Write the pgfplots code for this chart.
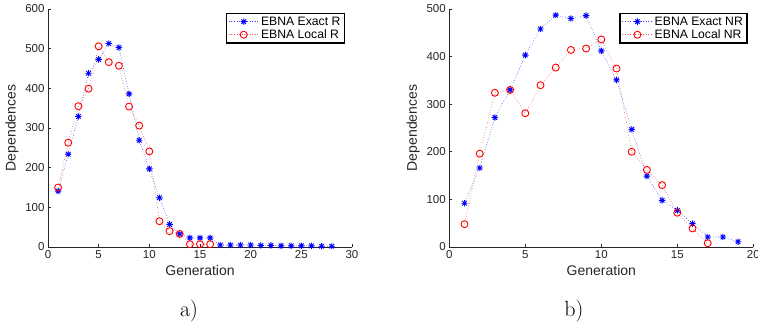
\documentclass[border=0pt]{standalone}
\usepackage{fontspec}
\usepackage{pgfplots}
\pgfplotsset{compat=1.18}
\newfontfamily\arial{Liberation Sans}
\pgfdeclareplotmark{mstar}{%
 \pgfpathmoveto{\pgfqpoint{-\pgfplotmarksize}{0pt}}\pgfpathlineto{\pgfqpoint{\pgfplotmarksize}{0pt}}%
 \pgfpathmoveto{\pgfqpoint{0pt}{-\pgfplotmarksize}}\pgfpathlineto{\pgfqpoint{0pt}{\pgfplotmarksize}}%
 \pgfpathmoveto{\pgfqpoint{-.7071\pgfplotmarksize}{-.7071\pgfplotmarksize}}\pgfpathlineto{\pgfqpoint{.7071\pgfplotmarksize}{.7071\pgfplotmarksize}}%
 \pgfpathmoveto{\pgfqpoint{-.7071\pgfplotmarksize}{.7071\pgfplotmarksize}}\pgfpathlineto{\pgfqpoint{.7071\pgfplotmarksize}{-.7071\pgfplotmarksize}}%
 \pgfusepathqstroke}
\pgfplotsset{
 myax/.style={
  scale only axis, width=304pt, height=238pt,
  axis x line*=bottom, axis y line*=left,
  axis line style={-, line width=0.9pt, black!85},
  tick align=inside, major tick length=3pt,
  tick style={line width=0.8pt, black!85},
  /pgf/number format/assume math mode=true,
  tick label style={font=\arial\fontsize{11.5}{13}\selectfont, text=black!85},
  label style={font=\arial\fontsize{14}{16}\selectfont, text=black!85},
  xlabel={Generation}, ylabel={Dependences},
  clip=false,
  legend cell align=left,
  legend style={font=\arial\fontsize{12.2}{14}\selectfont, draw=black, line width=1.3pt,
    anchor=north east, inner xsep=2pt, inner ysep=1pt, row sep=-1pt},
  legend image code/.code={%
    \draw[#1, mark repeat=2, mark phase=2] plot coordinates {(0pt,0pt) (15pt,0pt) (30pt,0pt)};},
 },
 ex/.style={blue!75, dotted, line width=0.6pt, mark=mstar, mark size=3.2pt,
   mark options={solid, blue, line width=0.9pt}},
 lo/.style={red!70, dotted, line width=0.6pt, mark=o, mark size=3.5pt,
   mark options={solid, red, line width=0.9pt}},
}
\begin{document}
\begin{tikzpicture}
\begin{axis}[myax, at={(48pt,81pt)}, anchor=south west,
  xmin=0, xmax=30, ymin=0, ymax=600,
  xtick={0,5,...,30}, ytick={0,100,...,600},
  legend style={at={(rel axis cs:0.977,0.983)}}]
\addplot[ex] coordinates {(1,141)(2,234)(3,329)(4,438)(5,473)(6,513)(7,503)(8,386)(9,269)(10,197)(11,124)(12,57)(13,33)(14,23)(15,23)(16,23)(17,5)(18,5)(19,5)(20,5)(21,4)(22,4)(23,3)(24,3)(25,3)(26,3)(27,2)(28,2)};
\addlegendentry{EBNA Exact R}
\addplot[lo] coordinates {(1,150)(2,263)(3,355)(4,399)(5,506)(6,466)(7,457)(8,354)(9,306)(10,241)(11,65)(12,40)(13,33)(14,7)(15,7)(16,7)};
\addlegendentry{EBNA Local R}
\end{axis}
\begin{axis}[myax, at={(449.3pt,81pt)}, anchor=south west,
  xmin=0, xmax=20, ymin=0, ymax=500,
  xtick={0,5,...,20}, ytick={0,100,...,500},
  legend style={at={(rel axis cs:0.981,0.983)}}]
\addplot[ex] coordinates {(1,92)(2,166)(3,272)(4,330)(5,403)(6,458)(7,487)(8,480)(9,486)(10,412)(11,351)(12,247)(13,149)(14,98)(15,77)(16,49)(17,21)(18,21)(19,11)};
\addlegendentry{EBNA Exact NR}
\addplot[lo] coordinates {(1,48)(2,196)(3,324)(4,330)(5,281)(6,340)(7,377)(8,414)(9,417)(10,436)(11,375)(12,200)(13,162)(14,130)(15,72)(16,39)(17,8)};
\addlegendentry{EBNA Local NR}
\end{axis}
\node[anchor=base, inner sep=0pt, font=\fontsize{22}{26}\selectfont] at (189pt,11pt) {a)};
\node[anchor=base, inner sep=0pt, font=\fontsize{22}{26}\selectfont] at (574pt,11pt) {b)};
\pgfresetboundingbox
\path (0pt,0pt) rectangle (758pt,328pt);
\end{tikzpicture}
\end{document}
